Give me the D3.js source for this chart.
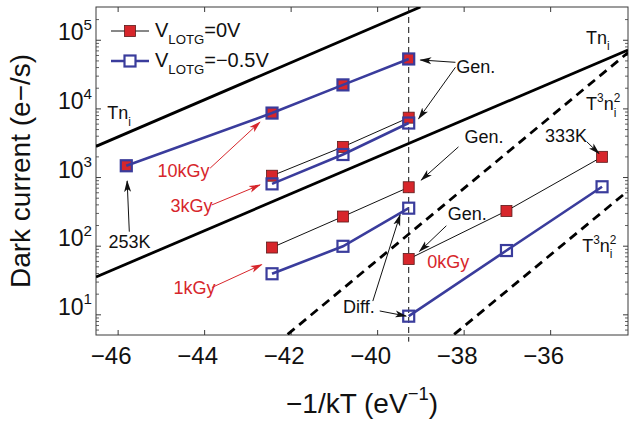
<!DOCTYPE html>
<html>
<head>
<meta charset="utf-8">
<script src="https://cdn.jsdelivr.net/npm/d3@7"></script>
<style>
  body { margin: 0; background: #fff; }
  svg { display: block; font-family: "Liberation Sans", Arial, sans-serif; }
</style>
</head>
<body>
<div id="chart"></div>
<script>
// -1/kT (eV^-1) vs dark current (e-/s), two gate voltages, four doses
const xTicks = [-46, -44, -42, -40, -38, -36]
const yTicks = [1e1, 1e2, 1e3, 1e4, 1e5]

const dose10kGyV0 = [[-45.8, 1460], [-42.43, 8550], [-40.79, 22000], [-39.27, 52500]]
const dose10kGyVm05 = [[-45.8, 1460], [-42.43, 8550], [-40.79, 22000], [-39.27, 52500]]
const dose3kGyV0 = [[-42.43, 1045], [-40.79, 2750], [-39.27, 7330]]
const dose3kGyVm05 = [[-42.43, 795], [-40.79, 2130], [-39.27, 6120]]
const dose1kGyV0 = [[-42.43, 94], [-40.79, 266], [-39.27, 710]]
const dose1kGyVm05 = [[-42.43, 39], [-40.79, 98], [-39.27, 352]]
const dose0kGyV0 = [[-39.27, 64], [-37.01, 321], [-34.8, 1970]]
const dose0kGyVm05 = [[-39.27, 9.4], [-37.01, 85], [-34.8, 722]]

const seriesV0 = [dose10kGyV0, dose3kGyV0, dose1kGyV0, dose0kGyV0]
const seriesVm05 = [dose10kGyVm05, dose3kGyVm05, dose1kGyVm05, dose0kGyVm05]
const legendLabels = ['V_{LOTG}=0V', 'V_{LOTG}=\u22120.5V']

// model guide lines (end points)
const tniLines = [[[-46.5, 2800], [-39.0, 3e5]], [[-46.5, 35], [-34.2, 71000]]]
const t3ni2Lines = [[[-42.07, 5.1], [-34.2, 65000]], [[-38.22, 5.1], [-34.2, 630]]]
const roomTemp = -39.27

// annotations, in data coordinates
const labels = [
  { text: 'Tn_{i}', at: [-46.24, 6930] },
  { text: 'Tn_{i}', at: [-35.17, 87500] },
  { text: 'T^{3}n_{i}^{2}', at: [-35.17, 9350] },
  { text: 'T^{3}n_{i}^{2}', at: [-35.26, 82] },
  { text: 'Gen.', at: [-38.17, 33300] },
  { text: 'Gen.', at: [-37.98, 3110] },
  { text: 'Gen.', at: [-38.37, 238] },
  { text: '333K', at: [-36.12, 3250] },
  { text: '253K', at: [-46.21, 92.7] },
  { text: 'Diff.', at: [-40.79, 10.6] },
  { text: '10kGy', at: [-45.08, 1000], red: true },
  { text: '3kGy', at: [-44.78, 314], red: true },
  { text: '1kGy', at: [-44.71, 19.5], red: true },
  { text: '0kGy', at: [-38.84, 47.5], red: true }
]
const arrows = [
  { from: [-38.19, 46900], to: [-39.0, 50800] },
  { from: [-38.19, 39700], to: [-39.04, 7100] },
  { from: [-38.12, 2750], to: [-38.98, 906] },
  { from: [-38.4, 195], to: [-39.02, 82.6] },
  { from: [-35.15, 3250], to: [-34.87, 2200] },
  { from: [-45.73, 160], to: [-45.78, 875] },
  { from: [-40.1, 15.6], to: [-39.47, 281] },
  { from: [-39.94, 11.2], to: [-39.33, 9.44] },
  { from: [-43.86, 1350], to: [-42.71, 6320], red: true },
  { from: [-43.82, 393], to: [-42.71, 766], red: true },
  { from: [-43.82, 24.6], to: [-42.67, 53], red: true }
]

const width = 629
const height = 426
const margin = { top: 7, right: 1, bottom: 91, left: 96 }
const RED = '#d7262b'
const BLUE = '#3a3c9c'
const AXIS = '#3a3a3a'

const svg = d3.select('#chart').append('svg')
  .attr('width', width).attr('height', height)

const x = d3.scaleLinear().domain([-46.5, -34.2]).range([margin.left, width - margin.right])
const y = d3.scaleLog().domain([5, 3e5]).range([height - margin.bottom, margin.top])

// small markup: _{sub} and ^{sup}, sub followed by sup gets stacked
function rich(text, str, fs) {
  const re = /([_^])\{([^}]*)\}|([^_^]+)/g
  let m, shift = 0, prev = null
  while ((m = re.exec(str))) {
    if (m[3]) {
      text.append('tspan').attr('dy', -shift).attr('font-size', fs).text(m[3])
      shift = 0
      prev = null
    } else {
      const target = m[1] === '_' ? fs * 0.35 : -fs * 0.45
      const ts = text.append('tspan').attr('dy', target - shift)
        .attr('font-size', fs * 0.66).text(m[2])
      if (prev) ts.attr('dx', -prev.node().getComputedTextLength())
      shift = target
      prev = ts
    }
  }
}

const defs = svg.append('defs')
defs.append('clipPath').attr('id', 'plot')
  .append('rect')
  .attr('x', margin.left).attr('y', margin.top)
  .attr('width', width - margin.left - margin.right)
  .attr('height', height - margin.top - margin.bottom)
for (const [id, col] of [['head-k', '#111'], ['head-r', RED]]) {
  defs.append('marker').attr('id', id)
    .attr('viewBox', '0 0 12 8').attr('refX', 11).attr('refY', 4)
    .attr('markerWidth', 12).attr('markerHeight', 8)
    .attr('markerUnits', 'userSpaceOnUse').attr('orient', 'auto')
    .append('path').attr('d', 'M0,0.5 L12,4 L0,7.5 L3,4 z').attr('fill', col)
}

// axes
const bottom = height - margin.bottom
svg.append('g')
  .attr('transform', `translate(0,${bottom})`)
  .call(d3.axisBottom(x).tickValues(xTicks).tickSize(-5).tickPadding(12)
    .tickFormat(d => d < 0 ? '\u2212' + Math.abs(d) : d))
  .call(g => g.select('.domain').remove())
  .call(g => g.selectAll('line').attr('stroke', AXIS))
  .call(g => g.selectAll('text').attr('font-size', 24).attr('fill', '#111')
    .attr('dx', -7).attr('font-family', null))

svg.append('g')
  .attr('transform', `translate(0,${margin.top})`)
  .call(d3.axisTop(x).tickValues(xTicks).tickSize(-5).tickFormat(''))
  .call(g => g.select('.domain').remove())
  .call(g => g.selectAll('line').attr('stroke', AXIS))

const minor = []
for (let e = 0; e <= 5; e++) {
  for (let k = 2; k <= 9; k++) {
    const v = k * 10 ** e
    if (v > 5 && v < 3e5) minor.push(v)
  }
}
for (const side of ['left', 'right']) {
  const xpos = side === 'left' ? margin.left : width - margin.right
  const axis = side === 'left' ? d3.axisLeft(y) : d3.axisRight(y)
  svg.append('g')
    .attr('transform', `translate(${xpos},0)`)
    .call(axis.tickValues(minor).tickSize(-3).tickFormat(''))
    .call(g => g.select('.domain').remove())
    .call(g => g.selectAll('line').attr('stroke', AXIS).attr('stroke-width', 0.8))
  const gMajor = svg.append('g')
    .attr('transform', `translate(${xpos},0)`)
    .call((side === 'left' ? d3.axisLeft(y) : d3.axisRight(y))
      .tickValues(yTicks).tickSize(-5).tickPadding(4)
      .tickFormat(side === 'left' ? d => d : ''))
    .call(g => g.select('.domain').remove())
    .call(g => g.selectAll('line').attr('stroke', AXIS))
  if (side === 'left') {
    gMajor.selectAll('text')
      .attr('font-family', null).attr('font-size', null).attr('fill', '#111')
      .attr('dy', 10)
      .each(function (d) {
        const t = d3.select(this).text(null)
        rich(t, `10^{${Math.round(Math.log10(d))}}`, 23)
      })
  }
}

svg.append('rect')
  .attr('x', margin.left).attr('y', margin.top)
  .attr('width', width - margin.left - margin.right)
  .attr('height', height - margin.top - margin.bottom)
  .attr('fill', 'none').attr('stroke', AXIS).attr('stroke-width', 1)

// axis titles
const xTitle = svg.append('text')
  .attr('x', (margin.left + width - margin.right) / 2).attr('y', 413)
  .attr('text-anchor', 'middle').attr('fill', '#111')
rich(xTitle, '\u22121/kT (eV^{\u22121})', 28)

svg.append('text')
  .attr('transform', `translate(30,${(margin.top + bottom) / 2}) rotate(-90)`)
  .attr('text-anchor', 'middle').attr('font-size', 28).attr('fill', '#111')
  .text('Dark current (e\u2212/s)')

// guide lines
const plot = svg.append('g').attr('clip-path', 'url(#plot)')
const line = d3.line().x(d => x(d[0])).y(d => y(d[1]))

plot.selectAll('path.tni')
  .data(tniLines)
  .join('path')
  .attr('class', 'tni')
  .attr('d', line)
  .attr('fill', 'none').attr('stroke', '#000').attr('stroke-width', 2.8)

plot.selectAll('path.t3ni2')
  .data(t3ni2Lines)
  .join('path')
  .attr('class', 't3ni2')
  .attr('d', line)
  .attr('fill', 'none').attr('stroke', '#000').attr('stroke-width', 2.8)
  .attr('stroke-dasharray', '9 6')

svg.append('line')
  .attr('x1', x(roomTemp)).attr('x2', x(roomTemp))
  .attr('y1', margin.top).attr('y2', y(4))
  .attr('stroke', '#111').attr('stroke-width', 1)
  .attr('stroke-dasharray', '6 4')

// V = 0 V : thin black line, filled red squares
const s0 = svg.append('g')
s0.selectAll('path')
  .data(seriesV0)
  .join('path')
  .attr('d', line)
  .attr('fill', 'none').attr('stroke', '#111').attr('stroke-width', 1)
s0.selectAll('rect')
  .data(seriesV0.flat())
  .join('rect')
  .attr('x', d => x(d[0]) - 5.5).attr('y', d => y(d[1]) - 5.5)
  .attr('width', 11).attr('height', 11)
  .attr('fill', RED).attr('stroke', '#5a1a1a').attr('stroke-width', 0.8)

// V = -0.5 V : thick blue line, open blue squares
const s1 = svg.append('g')
s1.selectAll('path')
  .data(seriesVm05)
  .join('path')
  .attr('d', line)
  .attr('fill', 'none').attr('stroke', BLUE).attr('stroke-width', 2.6)
s1.selectAll('rect')
  .data(seriesVm05.flat())
  .join('rect')
  .attr('x', d => x(d[0]) - 5.5).attr('y', d => y(d[1]) - 5.5)
  .attr('width', 11).attr('height', 11)
  .attr('fill', 'none').attr('stroke', BLUE).attr('stroke-width', 2.2)

// annotations
svg.append('g').selectAll('line')
  .data(arrows)
  .join('line')
  .attr('x1', d => x(d.from[0])).attr('y1', d => y(d.from[1]))
  .attr('x2', d => x(d.to[0])).attr('y2', d => y(d.to[1]))
  .attr('stroke', d => d.red ? RED : '#111').attr('stroke-width', 1)
  .attr('marker-end', d => d.red ? 'url(#head-r)' : 'url(#head-k)')

svg.append('g').selectAll('text')
  .data(labels)
  .join('text')
  .attr('x', d => x(d.at[0])).attr('y', d => y(d.at[1]))
  .attr('fill', d => d.red ? RED : '#111')
  .each(function (d) { rich(d3.select(this), d.text, 18) })

// legend
const legend = svg.append('g').attr('transform', 'translate(111,31)')
legendLabels.forEach((label, i) => {
  const g = legend.append('g').attr('transform', `translate(0,${i * 30})`)
  g.append('line').attr('x1', 0).attr('x2', 38)
    .attr('stroke', i === 0 ? '#111' : BLUE).attr('stroke-width', i === 0 ? 1 : 2.6)
  g.append('rect').attr('x', 13.5).attr('y', -5.5).attr('width', 11).attr('height', 11)
    .attr('fill', i === 0 ? RED : '#fff')
    .attr('stroke', i === 0 ? '#5a1a1a' : BLUE).attr('stroke-width', i === 0 ? 0.8 : 2.2)
  const t = g.append('text').attr('x', 44).attr('y', 6).attr('fill', '#111')
  rich(t, label, 20)
})
</script>
</body>
</html>
